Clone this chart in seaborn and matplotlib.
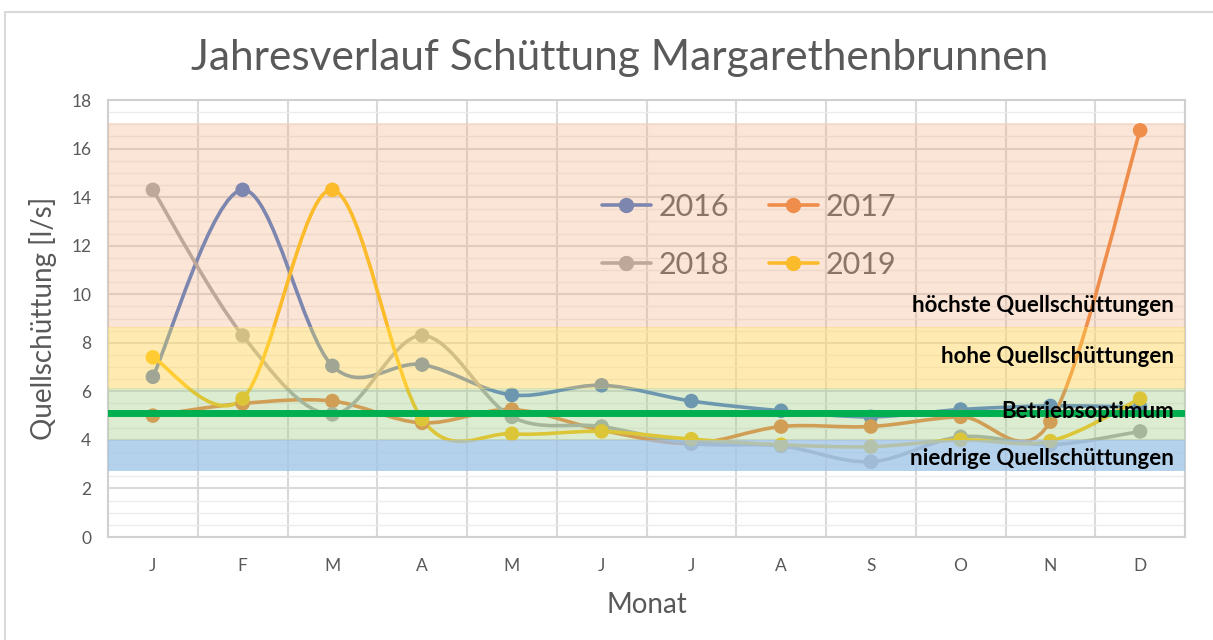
import numpy as np
import pandas as pd
import seaborn as sns
import matplotlib.pyplot as plt
from matplotlib.path import Path
from matplotlib.patches import PathPatch, Rectangle
from matplotlib.lines import Line2D
from matplotlib.ticker import MultipleLocator

# data
months = ["J", "F", "M", "A", "M", "J", "J", "A", "S", "O", "N", "D"]
years = ["2016", "2017", "2018", "2019"]
y2016 = [6.6, 14.3, 7.05, 7.1, 5.85, 6.25, 5.6, 5.2, 4.95, 5.25, 5.4, 5.35]
y2017 = [5.0, 5.5, 5.6, 4.7, 5.25, 4.4, 3.85, 4.55, 4.55, 4.95, 4.75, 16.75]
y2018 = [14.3, 8.3, 5.05, 8.3, 4.95, 4.55, 3.85, 3.75, 3.1, 4.13, 3.8, 4.35]
y2019 = [7.4, 5.7, 14.3, 4.85, 4.25, 4.35, 4.03, 3.8, 3.72, 4.0, 3.95, 5.7]
colors = ["#4472c4", "#ed7d31", "#a5a5a5", "#ffc000"]

# shaded ranges (low, high, colour, alpha) and their labels
bands = [(8.6, 17.05, "#f4b183", 0.33),
         (6.08, 8.65, "#ffd966", 0.5),
         (3.98, 6.15, "#a9d18e", 0.4),
         (2.7, 4.0, "#9dc3e6", 0.75)]
band_labels = ["höchste Quellschüttungen", "hohe Quellschüttungen",
               "Betriebsoptimum", "niedrige Quellschüttungen"]
label_y = [9.55, 7.42, 5.15, 3.25]
optimum = 5.12

series = [y2016, y2017, y2018, y2019]
df = pd.DataFrame({
    "x": np.tile(np.arange(len(months)), len(years)),
    "value": np.concatenate(series),
    "year": np.repeat(years, len(months)),
})

sns.set_theme(style="white")
plt.rcParams["font.family"] = ["Lato", "DejaVu Sans"]

fig = plt.figure(figsize=(12.13, 6.4), dpi=100)
ax = fig.add_axes([108 / 1213, 1 - 537 / 640, (1185 - 108) / 1213, (537 - 100) / 640])

# chart frame
fig.patches.append(Rectangle((5 / 1213, -0.05), 1.1, 1 - 12 / 640 + 0.05,
                             transform=fig.transFigure, fill=False,
                             edgecolor="#d9d9d9", lw=1.5))


def smooth_path(ys):
    # excel-like smoothed line (catmull-rom as bezier)
    pts = [(i, v) for i, v in enumerate(ys)]
    verts = [pts[0]]
    codes = [Path.MOVETO]
    n = len(pts)
    for i in range(n - 1):
        p0 = pts[max(i - 1, 0)]
        p1 = pts[i]
        p2 = pts[i + 1]
        p3 = pts[min(i + 2, n - 1)]
        c1 = (p1[0] + (p2[0] - p0[0]) / 6, p1[1] + (p2[1] - p0[1]) / 6)
        c2 = (p2[0] - (p3[0] - p1[0]) / 6, p2[1] - (p3[1] - p1[1]) / 6)
        verts += [c1, c2, p2]
        codes += [Path.CURVE4] * 3
    return Path(verts, codes)


for ys, c in zip(series, colors):
    ax.add_patch(PathPatch(smooth_path(ys), fill=False, edgecolor=c, lw=2.6,
                           zorder=3, capstyle="round"))

sns.scatterplot(data=df, x="x", y="value", hue="year", palette=colors,
                s=110, edgecolor="none", ax=ax, zorder=4, legend=False)

# legend fills column by column, so reorder to get 2016 2017 / 2018 2019
order = [0, 2, 1, 3]
handles = [Line2D([], [], color=colors[i], lw=2.6, marker="o", markersize=10)
           for i in order]
leg = ax.legend(handles, [years[i] for i in order], ncol=2, loc="center",
                bbox_to_anchor=(0.595, 0.689), frameon=False, fontsize=22,
                handlelength=1.6, columnspacing=1.3, labelspacing=1.0,
                handletextpad=0.25, labelcolor="#595959")
leg.set_zorder(5)

for lo, hi, c, a in bands:
    ax.axhspan(lo, hi, color=c, alpha=a, lw=0, zorder=6)

ax.axhline(optimum, color="#00b050", lw=5, zorder=7)

for txt, yv in zip(band_labels, label_y):
    ax.text(11.38, yv, txt, ha="right", va="center", fontsize=16,
            fontweight="bold", color="black", zorder=8)

ax.set_xlim(-0.5, 11.5)
ax.set_ylim(0, 18)
ax.set_xticks(range(len(months)))
ax.set_xticklabels(months)
ax.set_xticks(np.arange(-0.5, 12, 1), minor=True)
ax.yaxis.set_major_locator(MultipleLocator(2))
ax.yaxis.set_minor_locator(MultipleLocator(0.5))
ax.grid(False)
ax.grid(True, which="minor", axis="x", color="#d9d9d9", lw=1.5)
ax.grid(True, which="major", axis="y", color="#d9d9d9", lw=1.5)
ax.grid(True, which="minor", axis="y", color="#ececec", lw=1)
ax.set_axisbelow(True)
ax.tick_params(axis="both", which="both", length=0, colors="#595959",
               labelsize=12.5)
ax.tick_params(axis="x", pad=15)
ax.tick_params(axis="y", pad=12)
for sp in ax.spines.values():
    sp.set_color("#d0d0d0")
    sp.set_linewidth(1.5)

ax.set_xlabel("Monat", fontsize=20, color="#595959", labelpad=13)
ax.set_ylabel("Quellschüttung [l/s]", fontsize=20, color="#595959", labelpad=10)
fig.text(620 / 1213, 1 - 58 / 640, "Jahresverlauf Schüttung Margarethenbrunnen",
         ha="center", va="center", fontsize=30.5, color="#595959")

fig.savefig("out.png", dpi=100)
